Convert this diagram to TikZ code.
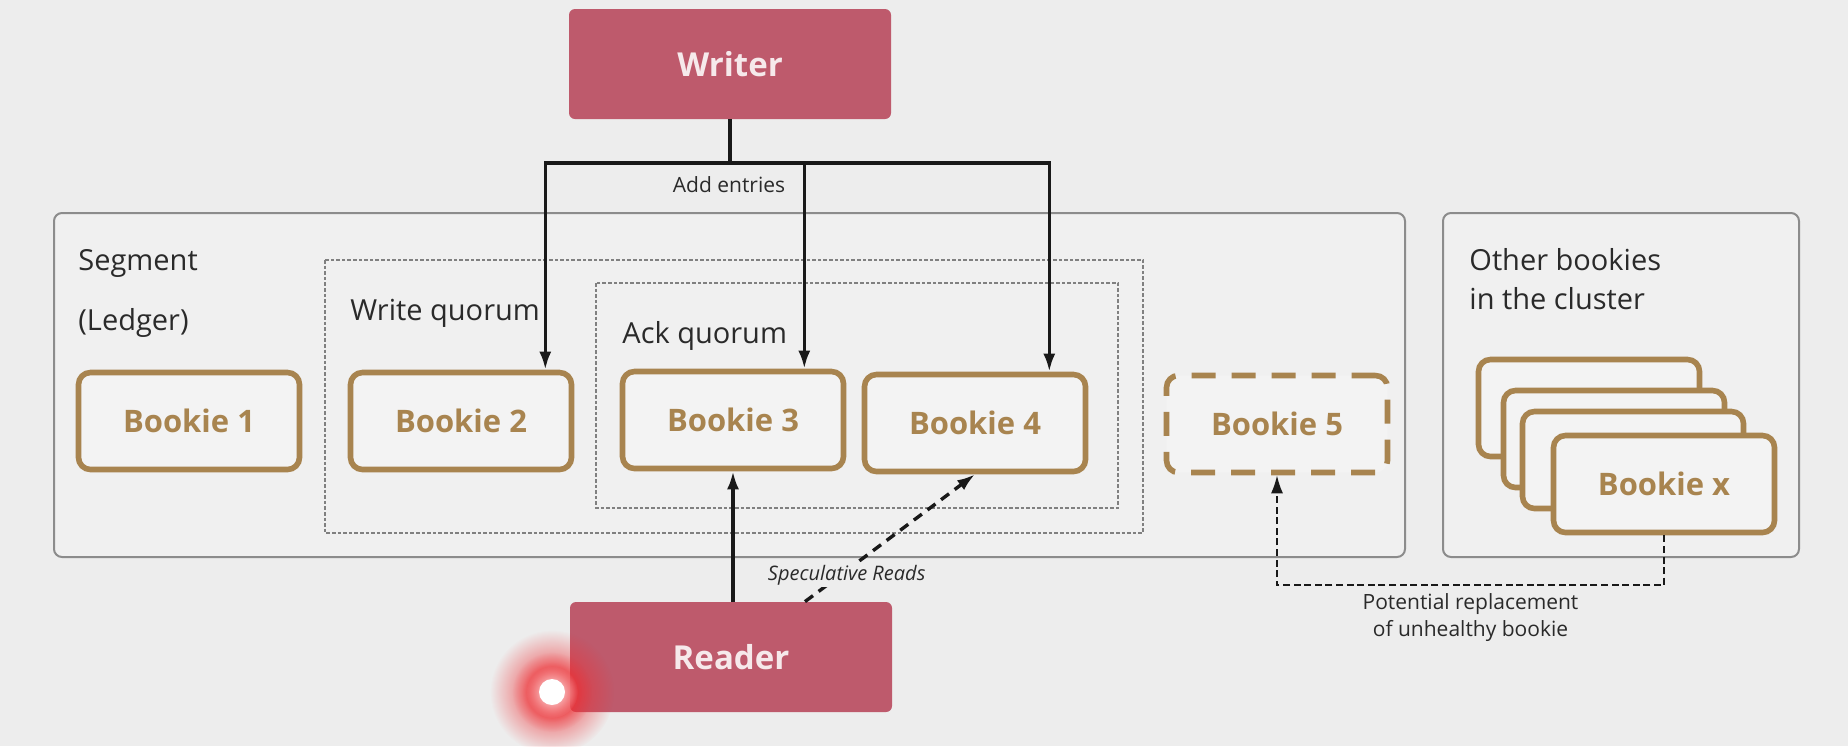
\documentclass[tikz,border=0pt]{standalone}
\usepackage{fontspec}
\setmainfont{Open Sans}
\usetikzlibrary{arrows.meta,positioning,fadings}

\definecolor{bg}{HTML}{EDEDED}
\definecolor{panelfill}{HTML}{F0F0F0}
\definecolor{cardfill}{HTML}{F3F3F3}
\definecolor{rose}{HTML}{BE5A6C}
\definecolor{roseText}{HTML}{F6E9EB}
\definecolor{bookieBrown}{HTML}{A8844F}
\definecolor{inkgray}{HTML}{2A2A2A}
\definecolor{framegray}{HTML}{8C8C8C}
\definecolor{glowred}{HTML}{EE3035}

\tikzfading[name=glowfade, inner color=transparent!0, outer color=transparent!100]

\tikzset{
  actor/.style={fill=rose, rounded corners=3pt, minimum width=161pt,
    minimum height=55pt, text=roseText,
    font=\fontsize{16.5}{20}\selectfont\bfseries},
  bookie/.style={draw=bookieBrown, line width=2.8pt, fill=cardfill,
    rounded corners=6pt, minimum width=110.5pt, minimum height=48.5pt,
    text=bookieBrown, font=\fontsize{15.5}{19}\selectfont\bfseries},
  panel/.style={draw=framegray, line width=1pt, fill=panelfill, rounded corners=4pt},
  quorum/.style={draw=gray, line width=0.6pt, dash pattern=on 1.8pt off 1pt},
  boxtitle/.style={inner sep=0pt, anchor=west, text=inkgray,
    font=\fontsize{14.5}{19.5}\selectfont},
  note/.style={text=inkgray, font=\fontsize{10.5}{13.5}\selectfont},
  readnote/.style={text=inkgray, font=\fontsize{10}{12}\selectfont\itshape,
    fill=bg, inner sep=1pt},
  feed/.style={->, line width=1.7pt, draw=black!90},
}

\begin{document}
\begin{tikzpicture}[x=0.5pt, y=-0.5pt, >={Latex[length=9pt,width=6pt]}]

% Page background, same size as the reference
\fill[bg] (0,0) rectangle (1848,746);
\useasboundingbox (0,0) rectangle (1848,746);

% The two panels and the quorum frames
\draw[panel] (54,213) rectangle (1405,557);
\draw[panel] (1443,213) rectangle (1799,557);
\draw[quorum] (325,260) rectangle (1143,533);
\draw[quorum] (596,283) rectangle (1118,508);

% Captions
\node[boxtitle] (seg) at (78,263) {Segment};
\node[boxtitle] (ledger) at (78,323) {(Ledger)};
\node[boxtitle] (wq) at (350,313) {Write quorum};
\node[boxtitle] (aq) at (622,336) {Ack quorum};
\node[boxtitle, align=left] (other) at (1469,279) {Other bookies\\in the cluster};

% Bookies of the segment
\foreach \n/\x/\y in {1/189/421, 2/461/421, 3/733/420, 4/975/423} {
  \node[bookie] (b\n) at (\x,\y) {Bookie \n};
}
\node[bookie, dash pattern=on 12pt off 8pt] (b5) at (1277,424) {Bookie 5};

% The stack of other bookies, back to front
\foreach \n/\x/\y in {1/1589/408, 2/1614/439, 3/1633/460} {
  \node[bookie] (card\n) at (\x,\y) {};
}
\node[bookie] (bx) at (1664,484) {Bookie x};

% Writer and reader
\node[actor] (writer) at (730,64) {Writer};
\node[actor] (reader) at (731,657) {Reader};

% Writes fan out to the write quorum
\coordinate (hub) at (730,163);
\draw[line width=1.7pt, draw=black!90] (writer.south) -- (hub);
\foreach \b/\dx in {b2/-14.5pt, b3/-21pt, b4/-19.5pt} {
  \draw[feed] (hub) -| ([xshift=\dx]\b.north east);
}
\node[note] (add) at (729,185) {Add entries};

% Reads
\draw[feed] (reader.north -| b3) -- (b3.south);
\draw[feed, dash pattern=on 5pt off 3.5pt] ([xshift=37pt]reader.north) -- (b4.south)
  node[pos=0.21, readnote, xshift=3pt] (spec) {Speculative Reads};

% Replacement of an unhealthy bookie
\draw[->, line width=0.9pt, draw=black!90, dash pattern=on 3.5pt off 1.8pt]
  (bx.south) -- ++(0,50) -| (b5.south)
  node[pos=0.25, below=0.5pt, note, align=center] (repl) {Potential replacement\\of unhealthy bookie};

% Pointer highlight
\coordinate (cursor) at (552,692);
\fill[glowred, path fading=glowfade] (cursor) circle (31pt);
\fill[glowred, path fading=glowfade] (cursor) circle (20pt);
\fill[glowred, opacity=0.6, path fading=glowfade] (cursor) circle (15pt);
\fill[white, path fading=glowfade] (cursor) circle (13pt);
\fill[white] (cursor) circle (6.5pt);

\end{tikzpicture}
\end{document}
